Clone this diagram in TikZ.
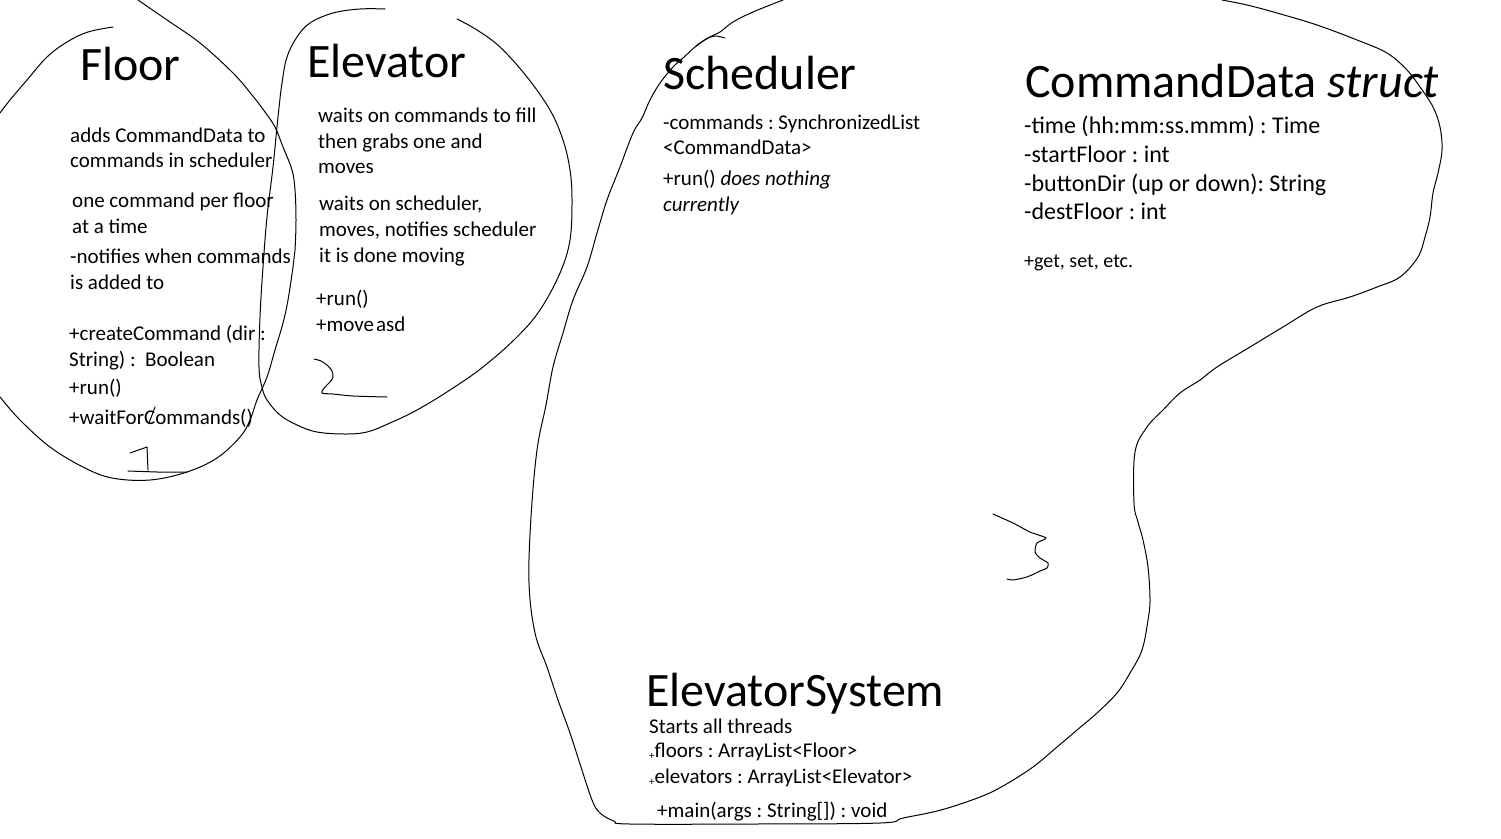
\documentclass[tikz,border=0pt]{standalone}
\usepackage{fontspec}
\setmainfont{Carlito}
\frenchspacing
\begin{document}
\begin{tikzpicture}[x=1pt,y=-1pt]
\tikzset{
 ttl/.style={anchor=base west, inner sep=0pt, font=\fontsize{48}{56}\selectfont},
 txt/.style={anchor=base west, inner sep=0pt, font=\fontsize{21}{26}\selectfont},
 bigtxt/.style={anchor=base west, inner sep=0pt, font=\fontsize{24}{29}\selectfont},
 hand/.style={line width=1pt, line join=round, line cap=round},
}
\useasboundingbox[fill=white] (0,0) rectangle (1501,838);

% ---------- Floor ----------
\node[ttl] (floorT) at (80,80) {Floor};
\node[txt] (f1) at (70,142) {adds CommandData to};
\node[txt] (f2) at (70,167) {commands in scheduler};
\node[txt] (f3) at (72,207) {one command per floor};
\node[txt] (f4) at (72,233) {at a time};
\node[txt] (f5) at (70,263) {-notifies when commands};
\node[txt] (f6) at (70,289) {is added to};
\node[txt] (f7) at (69,340) {+createCommand (dir :};
\node[txt] (f8) at (69,366) {String) :\ \ Boolean};
\node[txt] (f9) at (69,394) {+run()};
\node[txt] (f10) at (69,424) {+waitForCommands()};

% ---------- Elevator ----------
\node[ttl] (elevT) at (307,77) {Elevator};
\node[txt] (e1) at (318,122) {waits on commands to fill};
\node[txt] (e2) at (318,148) {then grabs one and};
\node[txt] (e3) at (318,173) {moves};
\node[txt] (e4) at (319,210) {waits on scheduler,};
\node[txt] (e5) at (319,236) {moves, notifies scheduler};
\node[txt] (e6) at (319,262) {it is done moving};
\node[txt] (e7) at (316,305) {+run()};
\node[txt] (e8) at (316,331) {+move\kern2pt asd};

% ---------- Scheduler ----------
\node[ttl] (schedT) at (663,89) {Scheduler};
\node[txt] (s1) at (663,129) {-commands : SynchronizedList};
\node[txt] (s2) at (663,154) {<CommandData>};
\node[txt] (s3) at (663,185) {+run() \textit{does nothing}};
\node[txt] (s4) at (663,211) {\textit{currently}};

% ---------- CommandData ----------
\node[ttl] (cdT) at (1025,97) {CommandData \textit{struct}};
\node[bigtxt] (c1) at (1024,133) {-time (hh:mm:ss.mmm) : Time};
\node[bigtxt] (c2) at (1024,162) {-startFloor : int};
\node[bigtxt] (c3) at (1024,191) {-buttonDir (up or down): String};
\node[bigtxt] (c4) at (1024,219) {-destFloor : int};
\node[txt, font=\fontsize{20}{24}\selectfont] (c5) at (1024,267) {+get, set, etc.};

% ---------- ElevatorSystem ----------
\node[ttl] (esT) at (646,706) {ElevatorSystem};
\node[txt] (es1) at (649,733) {Starts all threads};
\node[txt] (es2) at (649,757) {\raisebox{-2pt}{\fontsize{11}{11}\selectfont+}floors : ArrayList<Floor>};
\node[txt] (es3) at (649,783) {\raisebox{-2pt}{\fontsize{11}{11}\selectfont+}elevators : ArrayList<Elevator>};
\node[txt] (es4) at (657,817) {+main(args : String[]) : void};

% ---------- hand-drawn outlines ----------
% Floor (1)
\draw[hand] plot[smooth, tension=0.6] coordinates {(113,27) (88,32) (67,42) (47,57) (27,80) (10,100) (0,113)};
\draw[hand] plot[smooth, tension=0.6] coordinates {(138,0) (167,20) (200,43) (233,73) (252,95) (265,112) (275,127) (283,147) (292,170) (295,190) (296,220) (295,250) (293,267) (288,300) (283,323) (275,350) (267,377) (257,400) (250,420) (240,437) (217,458) (187,472) (150,480) (112,478) (83,467) (50,447) (20,420) (0,397)};
\draw[hand] (130,453) -- (147,447) -- (148,470);
\draw[hand] (128,471) -- (157,472) -- (187,472);
\draw[hand] (155,407) -- (149,423);

% Elevator (2)
\draw[hand] plot[smooth, tension=0.6] coordinates {(385,9) (360,9) (333,13) (310,23) (297,37) (287,57) (282,83) (278,117) (273,167) (267,217) (263,267) (260,317) (259,367) (262,387) (267,400) (280,415) (297,425) (317,432) (345,434) (367,432) (390,423) (417,410) (450,390) (483,367) (517,337) (540,310) (560,273) (570,240) (572,200) (570,170) (563,140) (550,110) (527,77) (500,47) (477,30) (457,19)};
\draw[hand] plot[smooth, tension=0.5] coordinates {(314,359) (321,361) (328,366) (332,371) (333,377) (330,382) (325,387) (322,393) (333,394) (353,396) (387,397)};

% Scheduler / CommandData / ElevatorSystem (3)
\draw[hand] plot[smooth, tension=0.6] coordinates {(783,0) (753,12) (733,22) (720,32) (708,38) (695,47) (683,58) (673,67) (660,83) (650,100) (642,118) (633,133) (620,167) (607,200) (597,233) (587,267) (573,300) (563,333) (553,367) (546,405) (537,450) (531,517) (529,583) (535,633) (547,667) (558,700) (570,733) (581,767) (592,800) (600,813) (614,821) (630,824) (755,824) (880,823) (903,818) (941,810) (980,797) (1003,786) (1033,767) (1057,747) (1077,730) (1097,713) (1117,693) (1130,673) (1142,650) (1148,620) (1150,600) (1148,567) (1143,540) (1138,522) (1134,503) (1135,452) (1147,427) (1163,410) (1180,393) (1200,380) (1217,367) (1250,347) (1283,327) (1317,307) (1350,297) (1377,287) (1400,277) (1418,257) (1425,237) (1430,217) (1433,193) (1438,173) (1442,150) (1440,127) (1433,107) (1420,87) (1407,70) (1387,53) (1357,40) (1317,25) (1277,13) (1247,5) (1222,0)};
\draw[hand] plot[smooth, tension=0.6] coordinates {(696,46) (706,39) (715,36) (725,38)};
\draw[hand] plot[smooth, tension=0.4] coordinates {(993,514) (1013,523) (1030,532) (1046,538) (1037,543) (1035,552) (1040,558) (1048,563) (1047,568) (1040,571) (1027,577) (1013,580) (1007,579)};
\end{tikzpicture}
\end{document}
